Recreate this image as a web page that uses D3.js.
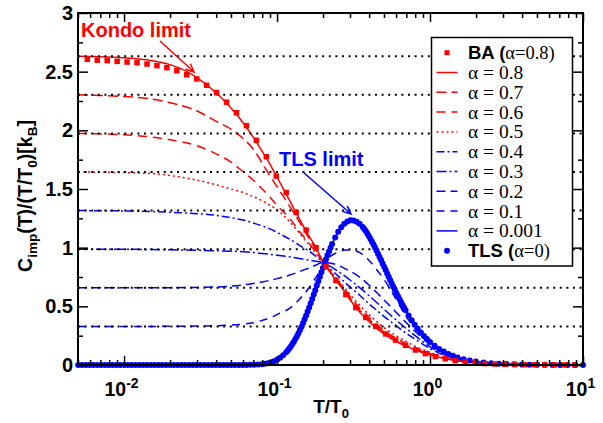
<!DOCTYPE html>
<html><head><meta charset="utf-8">
<script src="https://cdn.jsdelivr.net/npm/d3@7"></script>
<style>body{margin:0;background:#fff}</style>
</head><body><svg id="c" width="603" height="423"></svg>
<script>
// ---------------- data ----------------
const lineT = [0.005,0.007,0.01,0.015,0.02,0.03,0.04,0.05,0.06,0.07,0.08,0.09,0.1,0.12,0.14,0.16,0.18,0.2,
  0.22,0.25,0.28,0.31,0.35,0.4,0.45,0.5,0.6,0.7,0.8,1,1.2,1.5,2,3,5,10];
const alpha08 = [2.632,2.628,2.618,2.595,2.56,2.45,2.32,2.19,2.065,1.94,1.82,1.71,1.60,1.41,1.245,1.11,1.0,0.88,
  0.80,0.70,0.615,0.53,0.445,0.37,0.31,0.265,0.20,0.16,0.127,0.085,0.06,0.036,0.018,0.007,0.0022,0.0005];
const alpha07 = [2.303,2.297,2.288,2.268,2.235,2.165,2.076,2.01,1.93,1.84,1.72,1.61,1.52,1.36,1.22,1.09,0.98,0.878,
  0.802,0.707,0.625,0.545,0.462,0.387,0.327,0.28,0.214,0.17,0.135,0.091,0.064,0.038,0.0185,0.007,0.002,0.0004];
const alpha06 = [1.974,1.97,1.962,1.943,1.92,1.868,1.80,1.73,1.647,1.575,1.50,1.43,1.36,1.255,1.14,1.045,0.96,0.877,
  0.805,0.715,0.635,0.56,0.48,0.405,0.345,0.295,0.228,0.182,0.145,0.098,0.068,0.04,0.019,0.0068,0.0018,0.0003];
const alpha05 = [1.645,1.643,1.64,1.632,1.615,1.575,1.535,1.50,1.47,1.435,1.40,1.36,1.325,1.225,1.125,1.03,0.95,0.875,
  0.81,0.725,0.65,0.58,0.505,0.43,0.37,0.32,0.25,0.2,0.16,0.108,0.075,0.043,0.02,0.0068,0.0017,0.0003];
const alpha04 = [1.316,1.315,1.313,1.308,1.302,1.29,1.275,1.255,1.235,1.21,1.185,1.16,1.13,1.075,1.02,0.975,0.925,0.875,
  0.825,0.76,0.70,0.65,0.59,0.52,0.465,0.415,0.335,0.27,0.22,0.14,0.09,0.048,0.021,0.007,0.0017,0.0002];
const alpha03 = [0.987,0.987,0.986,0.984,0.982,0.978,0.974,0.97,0.965,0.958,0.95,0.943,0.936,0.922,0.908,0.895,0.884,0.875,
  0.845,0.80,0.755,0.71,0.655,0.59,0.53,0.475,0.385,0.31,0.25,0.155,0.098,0.052,0.023,0.0075,0.0018,0.0003];
const alpha02 = [0.658,0.658,0.658,0.658,0.659,0.661,0.665,0.672,0.682,0.695,0.708,0.722,0.736,0.765,0.795,0.825,0.852,0.875,
  0.87,0.85,0.82,0.79,0.745,0.68,0.615,0.555,0.45,0.36,0.285,0.175,0.105,0.056,0.025,0.008,0.0019,0.0003];
const alpha01 = [0.329,0.329,0.329,0.329,0.33,0.332,0.335,0.34,0.348,0.36,0.38,0.40,0.43,0.48,0.56,0.65,0.75,0.85,
  0.92,0.96,0.98,0.98,0.955,0.89,0.81,0.73,0.56,0.41,0.31,0.18,0.112,0.06,0.027,0.0085,0.002,0.0003];
const alpha0001 = [0,0,0,0,0,0,0,0,0.0002,0.0018,0.0073,0.0204,0.0454,0.139,0.288,0.469,0.658,0.831,
  0.976,1.130,1.2115,1.233,1.198,1.095,0.968,0.840,0.619,0.455,0.338,0.197,0.122,0.066,0.029,0.009,0.002,0.0003];

const lowTLimits = [0.329,0.658,0.987,1.316,1.645,1.974,2.303,2.632];

const baT = [0.005754,0.006683,0.007762,0.009016,0.01047,0.01216,0.01413,0.01641,0.01905,0.02213,
  0.0257,0.02985,0.03467,0.04027,0.04677,0.05433,0.0631,0.07328,0.08511,0.09886,
  0.1148,0.1334,0.1549,0.1799,0.2089,0.2427,0.2818,0.3273,0.3802,0.4416,
  0.5129,0.5957,0.6918,0.8035,0.9333,1.084,1.259,1.462,1.698,1.972,
  2.291,2.661,3.09,3.589,4.169,4.842,5.623,6.531,7.586,8.81];
const baC = [2.605,2.598,2.594,2.588,2.582,2.576,2.565,2.551,2.534,2.508,
  2.474,2.438,2.384,2.322,2.24,2.15,2.04,1.915,1.775,1.61,
  1.47,1.30,1.15,1.0,0.84,0.72,0.60,0.49,0.405,0.33,
  0.265,0.212,0.168,0.128,0.097,0.072,0.053,0.038,0.026,0.018,
  0.012,0.008,0.0055,0.0037,0.0025,0.0017,0.0012,0.0008,0.0006,0.0004];

const tlsT = [0.005012,0.005309,0.005623,0.005957,0.00631,0.006683,0.007079,0.007499,0.007943,0.008414,
  0.008913,0.009441,0.01,0.01059,0.01122,0.01189,0.01259,0.01334,0.01413,0.01496,
  0.01585,0.01679,0.01778,0.01884,0.01995,0.02113,0.02239,0.02371,0.02512,0.02661,
  0.02818,0.02985,0.03162,0.0335,0.03548,0.03758,0.03981,0.04217,0.04467,0.04732,
  0.05012,0.05309,0.05623,0.05957,0.0631,0.06683,0.07079,0.07499,0.07943,0.08318,
  0.0871,0.0912,0.0955,0.1,0.1047,0.1096,0.1148,0.1175,0.1202,0.123,
  0.1259,0.1288,0.1318,0.1349,0.138,0.1413,0.1445,0.1479,0.1514,0.1549,
  0.1585,0.1622,0.166,0.1698,0.1738,0.1778,0.182,0.1862,0.1905,0.195,
  0.1995,0.2042,0.2089,0.2138,0.2188,0.2239,0.2291,0.2399,0.2512,0.263,
  0.2754,0.2884,0.302,0.3162,0.3311,0.3467,0.3631,0.3715,0.3802,0.389,
  0.3981,0.4074,0.4169,0.4266,0.4365,0.4467,0.4571,0.4677,0.4786,0.4898,
  0.5012,0.5129,0.5248,0.537,0.5495,0.5623,0.5754,0.5888,0.6026,0.6166,
  0.631,0.6457,0.6607,0.6761,0.6918,0.7244,0.7586,0.7943,0.8318,0.871,
  0.912,0.955,1,1.0715,1.1482,1.2303,1.3183,1.4125,1.5136,1.6596,
  1.8197,1.9953,2.2387,2.5119,2.8184,3.1623,3.548,3.981,4.467,5.012,
  5.623,6.31,7.079,7.943,8.913,10];
const tlsC = [0,0,0,0,0,0,0,0,0,0,
  0,0,0,0,0,0,0,0,0,0,
  0,0,0,0,0,0,0,0,0,0,
  0,0,0,0,0,0,0,0,0,0,
  0,0,0,0,0,0.0011,0.0021,0.0038,0.0068,0.0105,
  0.0156,0.0228,0.0326,0.0454,0.062,0.083,0.109,0.124,0.1404,0.158,
  0.178,0.199,0.2213,0.245,0.271,0.298,0.327,0.357,0.389,0.421,
  0.455,0.49,0.5256,0.5625,0.6,0.638,0.6765,0.7147,0.7525,0.79,
  0.8275,0.864,0.9005,0.935,0.968,1.0,1.0316,1.0868,1.1346,1.174,
  1.2033,1.2235,1.2329,1.2323,1.2219,1.2029,1.1758,1.159,1.1411,1.121,
  1.0999,1.077,1.0535,1.0285,1.0034,0.9765,0.949,0.9215,0.894,0.8655,
  0.8371,0.8086,0.7801,0.7515,0.7229,0.695,0.6676,0.6403,0.6135,0.5875,
  0.5621,0.537,0.5125,0.489,0.4661,0.4225,0.3816,0.3437,0.3088,0.2768,
  0.2475,0.2208,0.1966,0.1647,0.1374,0.1143,0.0948,0.0785,0.0648,0.05,
  0.0385,0.0296,0.0212,0.0152,0.0108,0.0077,0.0055,0.0039,0.0028,0.002,
  0.0014,0.001,0.0007,0.0005,0.00035,0.00025];

const alphaLabels = ["0.8","0.7","0.6","0.5","0.4","0.3","0.2","0.1","0.001"];
const yTickValues = [0,0.5,1,1.5,2,2.5,3];
const yTickLabels = ["0","0.5","1","1.5","2","2.5","3"];
const yMinorTicks = [0.25,0.75,1.25,1.75,2.25,2.75];
const xDecades = [0.01,0.1,1,10];
const xExponents = ["-2","-1","0","1"];

// ---------------- drawing ----------------
const RED = "#ff0000", BLUE = "#0000ff";
const SANS = "'Liberation Sans', Arial, Helvetica, sans-serif";
const SERIF = "'Liberation Serif', 'Times New Roman', serif";
const L = 78, R = 583, TOP = 13, BOT = 365;
const svg = d3.select("#c");
const x = d3.scaleLog().domain([0.005, 10]).range([L, R]);
const y = d3.scaleLinear().domain([0, 3]).range([BOT, TOP]);

svg.append("defs").append("clipPath").attr("id", "clip")
  .append("rect").attr("x", L).attr("y", TOP).attr("width", R - L).attr("height", BOT - TOP);

const series = [
  {v: alpha08, c: RED, d: null},
  {v: alpha07, c: RED, d: "10,5"},
  {v: alpha06, c: RED, d: "9,6"},
  {v: alpha05, c: RED, d: "2,3"},
  {v: alpha04, c: BLUE, d: "8,3,2,3"},
  {v: alpha03, c: BLUE, d: "10,3,2,3"},
  {v: alpha02, c: BLUE, d: "9,5"},
  {v: alpha01, c: BLUE, d: "8,6"},
  {v: alpha0001, c: BLUE, d: null}
];

const plot = svg.append("g").attr("clip-path", "url(#clip)");
const line = d3.line().x((d, i) => x(lineT[i])).y(d => y(d)).curve(d3.curveMonotoneX);
series.slice().reverse().forEach(s => {
  plot.append("path").attr("d", line(s.v)).attr("fill", "none")
    .attr("stroke", s.c).attr("stroke-width", 1.5)
    .attr("stroke-dasharray", s.d);
});

// low-T limit dotted lines
svg.append("g").selectAll("line").data(lowTLimits).join("line")
  .attr("x1", L).attr("x2", R).attr("y1", d => y(d)).attr("y2", d => y(d))
  .attr("stroke", "#000").attr("stroke-width", 2).attr("stroke-dasharray", "2,4.6");

// TLS markers
svg.append("g").selectAll("circle").data(tlsT).join("circle")
  .attr("cx", d => x(d)).attr("cy", (d, i) => y(tlsC[i])).attr("r", 3).attr("fill", BLUE);
// BA markers
const sq = 5.5;
svg.append("g").selectAll("rect").data(baT).join("rect")
  .attr("x", d => x(d) - sq / 2).attr("y", (d, i) => y(baC[i]) - sq / 2)
  .attr("width", sq).attr("height", sq).attr("fill", RED);

// axes
function styleAxis(g) {
  g.select(".domain").remove();
  g.selectAll(".tick line").attr("stroke", "#000").attr("stroke-width", 1.5);
}
const xMinor = x.ticks().filter(t => !xDecades.some(dv => Math.abs(dv - t) / dv < 1e-6));
svg.append("g").attr("transform", `translate(0,${BOT})`)
  .call(d3.axisBottom(x).tickValues(xMinor).tickSize(-5).tickFormat("")).call(styleAxis);
svg.append("g").attr("transform", `translate(0,${TOP})`)
  .call(d3.axisTop(x).tickValues(xMinor).tickSize(-5).tickFormat("")).call(styleAxis);
svg.append("g").attr("transform", `translate(0,${TOP})`)
  .call(d3.axisTop(x).tickValues(xDecades).tickSize(-9).tickFormat("")).call(styleAxis);
const gx = svg.append("g").attr("transform", `translate(0,${BOT})`)
  .call(d3.axisBottom(x).tickValues(xDecades).tickSize(-9).tickPadding(17).tickFormat(() => "10"))
  .call(styleAxis);
gx.selectAll(".tick text").attr("font-size", 19.5).attr("font-weight", "bold").attr("font-family", SANS)
  .attr("fill", "#000").attr("dx", -3)
  .append("tspan").attr("dy", -8).attr("font-size", 14).text((d, i) => xExponents[i]);

svg.append("g").attr("transform", `translate(${L},0)`)
  .call(d3.axisLeft(y).tickValues(yMinorTicks).tickSize(-5).tickFormat("")).call(styleAxis);
svg.append("g").attr("transform", `translate(${R},0)`)
  .call(d3.axisRight(y).tickValues(yMinorTicks).tickSize(-5).tickFormat("")).call(styleAxis);
svg.append("g").attr("transform", `translate(${R},0)`)
  .call(d3.axisRight(y).tickValues(yTickValues).tickSize(-10).tickFormat("")).call(styleAxis);
const gy = svg.append("g").attr("transform", `translate(${L},0)`)
  .call(d3.axisLeft(y).tickValues(yTickValues).tickSize(-10).tickPadding(5)
    .tickFormat((d, i) => yTickLabels[i])).call(styleAxis);
gy.selectAll(".tick text").attr("font-size", 20).attr("font-weight", "bold")
  .attr("font-family", SANS).attr("fill", "#000");

// frame
svg.append("rect").attr("x", L).attr("y", TOP).attr("width", R - L).attr("height", BOT - TOP)
  .attr("fill", "none").attr("stroke", "#000").attr("stroke-width", 2);

// rich text helper
function rich(sel, parts, size, subSize) {
  let shifted = 0;
  parts.forEach(p => {
    const ts = sel.append("tspan").text(p.t);
    if (p.sub) { ts.attr("font-size", subSize).attr("dy", 5 - shifted); shifted = 5; }
    else if (shifted) { ts.attr("dy", -shifted); shifted = 0; }
    if (p.serif) ts.attr("font-family", SERIF).attr("font-weight", "normal");
  });
}

// axis titles
const xt = svg.append("text").attr("x", 331).attr("y", 413).attr("text-anchor", "middle")
  .attr("font-family", SANS).attr("font-weight", "bold").attr("font-size", 19);
rich(xt, [{t: "T/T"}, {t: "0", sub: true}], 19, 13);
const yt = svg.append("text").attr("transform", "translate(32,196) rotate(-90)").attr("text-anchor", "middle")
  .attr("font-family", SANS).attr("font-weight", "bold").attr("font-size", 19.5);
rich(yt, [{t: "C"}, {t: "imp", sub: true}, {t: "(T)/(T/T"}, {t: "0", sub: true}, {t: ")[k"}, {t: "B", sub: true}, {t: "]"}], 19.5, 13.5);

// annotations
function arrow(x1, y1, x2, y2, color) {
  const a = Math.atan2(y2 - y1, x2 - x1), len = 9, sp = 0.42;
  const p = `M${x1},${y1}L${x2},${y2}M${x2 - len * Math.cos(a - sp)},${y2 - len * Math.sin(a - sp)}L${x2},${y2}L${x2 - len * Math.cos(a + sp)},${y2 - len * Math.sin(a + sp)}`;
  svg.append("path").attr("d", p).attr("fill", "none").attr("stroke", color).attr("stroke-width", 1.5);
}
svg.append("text").attr("x", 81).attr("y", 37).attr("fill", RED).attr("font-family", SANS)
  .attr("font-weight", "bold").attr("font-size", 20).text("Kondo limit");
arrow(160, 41, 194, 72, RED);
svg.append("text").attr("x", 279).attr("y", 166).attr("fill", BLUE).attr("font-family", SANS)
  .attr("font-weight", "bold").attr("font-size", 20).text("TLS limit");
arrow(303, 172, 351, 214, BLUE);

// legend
const lg = svg.append("g");
lg.append("rect").attr("x", 431.5).attr("y", 37.5).attr("width", 141).attr("height", 228.5)
  .attr("fill", "#fff").attr("stroke", "#000").attr("stroke-width", 1.5);
const ly = i => 52.7 + i * 19.8;
const sx1 = 436.5, sx2 = 457.5, tx = 468;
const LFS = 18.5;
lg.append("rect").attr("x", 447 - 2.5).attr("y", ly(0) - 2.5).attr("width", 5).attr("height", 5).attr("fill", RED);
const t0 = lg.append("text").attr("x", tx).attr("y", ly(0) + 6.5).attr("font-family", SANS)
  .attr("font-weight", "bold").attr("font-size", LFS);
rich(t0, [{t: "BA ("}, {t: "\u03b1=0.8)", serif: true}], LFS, 13);
series.forEach((s, i) => {
  const yy = ly(i + 1);
  lg.append("line").attr("x1", sx1).attr("x2", sx2).attr("y1", yy).attr("y2", yy)
    .attr("stroke", s.c).attr("stroke-width", 1.5).attr("stroke-dasharray", s.d);
  lg.append("text").attr("x", tx).attr("y", yy + 6.5).attr("font-family", SERIF).attr("font-size", LFS + 1)
    .text("\u03b1 = " + alphaLabels[i]);
});
lg.append("circle").attr("cx", 447).attr("cy", ly(10)).attr("r", 3).attr("fill", BLUE);
const t10 = lg.append("text").attr("x", tx).attr("y", ly(10) + 6.5).attr("font-family", SANS)
  .attr("font-weight", "bold").attr("font-size", LFS);
rich(t10, [{t: "TLS ("}, {t: "\u03b1=0)", serif: true}], LFS, 13);
</script></body></html>
